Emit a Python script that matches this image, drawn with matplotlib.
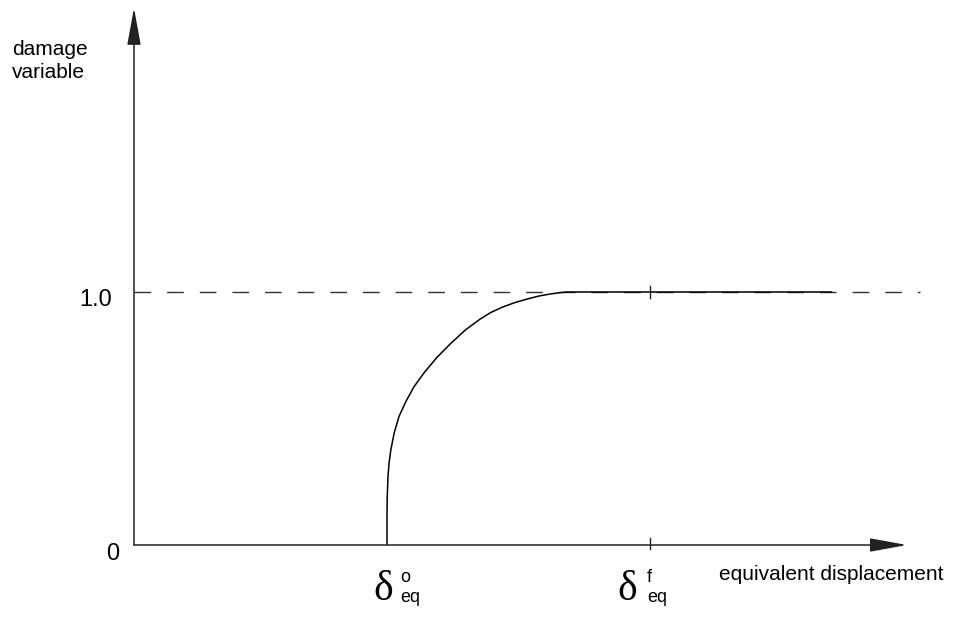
import matplotlib.pyplot as plt

# damage variable vs equivalent displacement (schematic)
delta_o = 1.0     # damage initiation
delta_f = 2.04    # failure displacement
d_max = 1.0

curve_x = [1.0, 1.0, 1.001, 1.004, 1.008, 1.015, 1.028, 1.047, 1.074, 1.107,
           1.146, 1.196, 1.248, 1.31, 1.368, 1.41, 1.458, 1.505, 1.553,
           1.60, 1.644, 1.68, 1.711, 2.76]
curve_y = [0.0, 0.12, 0.191, 0.27, 0.323, 0.375, 0.441, 0.507, 0.566, 0.626,
           0.68, 0.74, 0.793, 0.85, 0.893, 0.919, 0.941, 0.958, 0.972,
           0.984, 0.992, 0.997, 1.0, 1.0]

x_axis_end = 3.055
y_axis_end = 2.123
dash_end = 3.107

fig = plt.figure(figsize=(9.65, 6.2), dpi=100)
ax = fig.add_axes([0, 0, 1, 1])
ax.set_xlim(-0.5296, 3.2846)
ax.set_ylim(-0.2964, 2.1542)
ax.axis('off')

axis_col = '#222222'
arrow = dict(arrowstyle='-|>,head_length=2.3,head_width=0.42', color=axis_col,
             lw=1.1, shrinkA=0, shrinkB=0, mutation_scale=10)
ax.annotate('', xy=(0, y_axis_end), xytext=(0, 0), arrowprops=arrow)
ax.annotate('', xy=(x_axis_end, 0), xytext=(0, 0), arrowprops=arrow)

# dashed line at d = 1
ax.plot([0, dash_end], [d_max, d_max], color='#333333', lw=1.0, dashes=(12, 11.5))

# the damage curve
ax.plot(curve_x, curve_y, color='black', lw=1.1, solid_capstyle='butt',
        solid_joinstyle='round')

# tick marks at delta_f
ax.plot([delta_f, delta_f], [-0.016, 0.028], color=axis_col, lw=1.0)
ax.plot([delta_f, delta_f], [d_max - 0.024, d_max + 0.024], color=axis_col, lw=1.0)

sans = 'Liberation Sans'
ax.text(-0.482, 1.937, 'damage', fontsize=15, family=sans, va='baseline')
ax.text(-0.482, 1.846, 'variable', fontsize=15, family=sans, va='baseline')
ax.text(-0.087, 0.968, '1.0', fontsize=17, family=sans, ha='right', va='center')
ax.text(-0.083, -0.036, '0', fontsize=17, family=sans, ha='center', va='center')
ax.text(2.312, -0.138, 'equivalent displacement', fontsize=15, family=sans,
        va='baseline')

for x0, sup in [(delta_o, 'o'), (delta_f, 'f')]:
    left = x0 - 0.055 if sup == 'o' else x0 - 0.13
    ax.text(left, -0.217, '\u03b4', fontsize=30, family='Liberation Serif',
            va='baseline')
    sx = x0 + 0.051 if sup == 'o' else x0 - 0.012
    ax.text(sx, -0.146, sup, fontsize=13, family=sans, va='baseline')
    ax.text(sx, -0.225, 'eq', fontsize=13, family=sans, va='baseline')

fig.savefig('out.png', dpi=100)
